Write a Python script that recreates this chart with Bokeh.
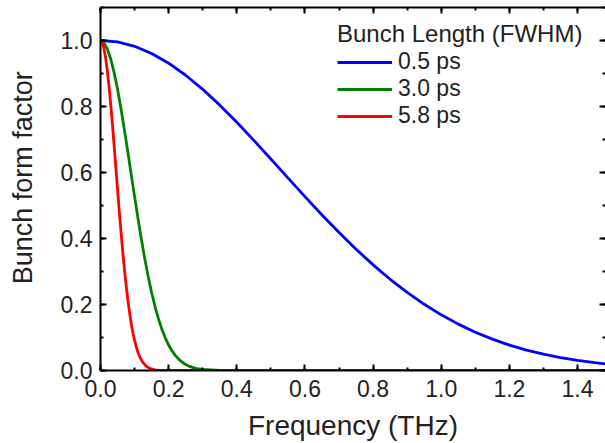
from bokeh.plotting import figure
from bokeh.models import (LinearAxis, Range1d, SingleIntervalTicker,
                          PrintfTickFormatter, CustomLabelingPolicy)
from bokeh.embed import file_html
from bokeh.resources import INLINE

# ---- data (frequency in THz, bunch form factor) ----
freq_05 = [0.00, 0.05, 0.10, 0.15, 0.20, 0.25, 0.30, 0.35, 0.40, 0.45,
           0.50, 0.55, 0.60, 0.65, 0.70, 0.75, 0.80, 0.85, 0.90, 0.95,
           1.00, 1.05, 1.10, 1.15, 1.20, 1.25, 1.30, 1.35, 1.40, 1.45, 1.50]
ff_05 = [1.0000, 0.9956, 0.9824, 0.9607, 0.9313, 0.8947, 0.8520, 0.8041, 0.7522, 0.6974,
         0.6408, 0.5837, 0.5269, 0.4714, 0.4181, 0.3675, 0.3201, 0.2764, 0.2365, 0.2006,
         0.1687, 0.1405, 0.1161, 0.0950, 0.0771, 0.0620, 0.0494, 0.0390, 0.0305, 0.0237, 0.0182]

freq_30 = [0.00, 0.01, 0.02, 0.03, 0.04, 0.05, 0.06, 0.07, 0.08, 0.09,
           0.10, 0.11, 0.12, 0.13, 0.14, 0.15, 0.16, 0.17, 0.18, 0.19,
           0.20, 0.21, 0.22, 0.23, 0.24, 0.25, 0.26, 0.27, 0.28, 0.29,
           0.30, 0.35, 0.40, 1.50]
ff_30 = [1.0000, 0.9936, 0.9747, 0.9440, 0.9026, 0.8520, 0.7940, 0.7305, 0.6636, 0.5951,
         0.5269, 0.4606, 0.3975, 0.3386, 0.2848, 0.2365, 0.1939, 0.1570, 0.1254, 0.0990,
         0.0771, 0.0593, 0.0450, 0.0337, 0.0250, 0.0182, 0.0132, 0.0094, 0.0066, 0.0046,
         0.0031, 0.0004, 0.0000, 0.0000]

freq_58 = [0.000, 0.005, 0.010, 0.015, 0.020, 0.025, 0.030, 0.035, 0.040, 0.045,
           0.050, 0.055, 0.060, 0.065, 0.070, 0.075, 0.080, 0.085, 0.090, 0.095,
           0.100, 0.105, 0.110, 0.115, 0.120, 0.125, 0.130, 0.135, 0.140, 0.145,
           0.150, 0.160, 0.170, 0.180, 0.200, 1.500]
ff_58 = [1.0000, 0.9940, 0.9763, 0.9475, 0.9086, 0.8610, 0.8061, 0.7457, 0.6817, 0.6157,
         0.5495, 0.4846, 0.4222, 0.3635, 0.3093, 0.2600, 0.2159, 0.1772, 0.1437, 0.1152,
         0.0912, 0.0713, 0.0551, 0.0421, 0.0318, 0.0237, 0.0175, 0.0127, 0.0092, 0.0065,
         0.0046, 0.0022, 0.0010, 0.0004, 0.0001, 0.0000]

series_labels = ["0.5 ps", "3.0 ps", "5.8 ps"]
legend_title = "Bunch Length (FWHM)"
x_title = "Frequency (THz)"
y_title = "Bunch form factor"

FONT = "Liberation Sans"

p = figure(width=605, height=443, output_backend="svg", toolbar_location=None,
           x_range=Range1d(0, 1.482), y_range=Range1d(0, 1.1),
           min_border_left=100, min_border_bottom=71, min_border_top=7, min_border_right=0,
           x_axis_location=None, y_axis_location=None)
p.outline_line_color = None
p.xgrid.visible = False
p.ygrid.visible = False
p.background_fill_color = "white"
p.border_fill_color = "white"


def style_axis(ax, labels=True, line=True):
    ax.ticker = SingleIntervalTicker(interval=0.2, num_minor_ticks=2)
    ax.formatter = PrintfTickFormatter(format="%.1f")
    ax.axis_line_width = 2
    ax.axis_line_color = "black" if line else None
    ax.major_tick_line_width = 2
    ax.minor_tick_line_width = 2
    ax.major_tick_in = 6
    ax.major_tick_out = 0
    ax.minor_tick_in = 3
    ax.minor_tick_out = 0
    ax.major_label_text_font = FONT
    ax.major_label_text_color = "#222222"
    ax.major_label_text_font_size = "23px"
    ax.major_label_text_line_height = 1.0
    ax.major_label_standoff = 6
    ax.axis_label_text_font = FONT
    ax.axis_label_text_font_style = "normal"
    ax.axis_label_text_font_size = "27px"
    ax.axis_label_text_line_height = 1.0
    ax.axis_label_text_color = "#222222"
    if not labels:
        ax.major_label_text_font_size = "0px"
        ax.major_label_policy = CustomLabelingPolicy(code="return [];")
        ax.major_label_standoff = 0


xb = LinearAxis(axis_label=x_title)
style_axis(xb)
xb.major_label_standoff = 9
xb.axis_label_text_font_size = "28px"
xb.axis_label_standoff = 10
p.add_layout(xb, "below")
yl = LinearAxis(axis_label="\u00a0\u00a0\u00a0" + y_title)
style_axis(yl)
yl.major_label_standoff = 8
yl.axis_label_standoff = 20
p.add_layout(yl, "left")
xt = LinearAxis()
style_axis(xt, labels=False)
p.add_layout(xt, "above")
yr = LinearAxis()
style_axis(yr, labels=False, line=False)
p.add_layout(yr, "right")

colors = ["#0000FF", "#008000", "#FF0000"]
for fx, fy, c, lab in zip([freq_05, freq_30, freq_58], [ff_05, ff_30, ff_58], colors, series_labels):
    p.line(fx, fy, line_color=c, line_width=2.8, legend_label=lab)

lg = p.legend[0]
lg.title = legend_title
lg.title_text_font = FONT
lg.title_text_font_size = "24px"
lg.title_text_font_style = "normal"
lg.title_text_color = "#222222"
lg.title_standoff = -10
lg.label_text_font = FONT
lg.label_text_font_size = "23px"
lg.label_text_color = "#222222"
lg.glyph_width = 55
lg.glyph_height = 26
lg.label_height = 26
lg.label_standoff = 6
lg.spacing = 0
lg.padding = 0
lg.margin = 0
lg.border_line_color = None
lg.background_fill_alpha = 0
lg.location = (237, 241)

open("out.html", "w").write(file_html(p, INLINE))
